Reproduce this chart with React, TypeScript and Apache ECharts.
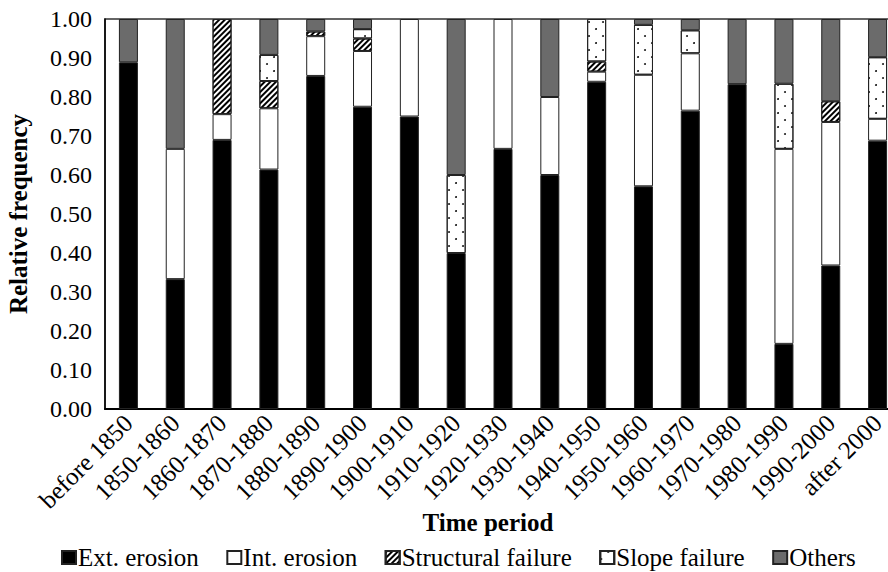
import React, { useEffect, useRef } from "react";
import * as echarts from "echarts";

// Time periods on the category axis
const categories = [
  "before 1850", "1850-1860", "1860-1870", "1870-1880", "1880-1890", "1890-1900",
  "1900-1910", "1910-1920", "1920-1930", "1930-1940", "1940-1950", "1950-1960",
  "1960-1970", "1970-1980", "1980-1990", "1990-2000", "after 2000",
];

// Relative frequency of each failure mechanism per period
const extErosion = [0.889, 0.333, 0.69, 0.614, 0.854, 0.775, 0.75, 0.4, 0.667, 0.6, 0.839, 0.571, 0.765, 0.833, 0.167, 0.368, 0.688];
const intErosion = [0, 0.334, 0.066, 0.157, 0.102, 0.143, 0.25, 0, 0.333, 0.2, 0.026, 0.286, 0.147, 0, 0.5, 0.368, 0.056];
const structuralFailure = [0, 0, 0.244, 0.07, 0.012, 0.032, 0, 0, 0, 0, 0.026, 0, 0, 0, 0, 0.053, 0];
const slopeFailure = [0, 0, 0, 0.067, 0, 0.024, 0, 0.2, 0, 0, 0.109, 0.128, 0.059, 0, 0.167, 0, 0.158];
const others = [0.111, 0.333, 0, 0.092, 0.032, 0.026, 0, 0.4, 0, 0.2, 0, 0.015, 0.029, 0.167, 0.166, 0.211, 0.098];

const yTicks = { min: 0, max: 1, interval: 0.1 };

const FONT = "Liberation Serif";
const EDGE = "#222";

const hatch = {
  symbol: "rect",
  symbolSize: 1,
  color: "#000",
  dashArrayX: [1, 0],
  dashArrayY: [2, 2],
  rotation: -Math.PI / 4,
};

const dots = {
  symbol: "circle",
  symbolSize: 0.9,
  color: "#000",
  dashArrayX: [[2, 12], [0, 7, 2, 5]],
  dashArrayY: [2, 4.5],
  rotation: 0,
};

const toData = (arr: number[]) => arr.map((v) => (v === 0 ? "-" : v));

export default function App() {
  const ref = useRef<HTMLDivElement>(null);

  useEffect(() => {
    if (!ref.current) return;
    const chart = echarts.init(ref.current, undefined, { renderer: "svg" });

    const mk = (name: string, data: number[], color: string, decal?: any) => ({
      name,
      type: "bar",
      stack: "total",
      barWidth: 19,
      data: toData(data),
      itemStyle: {
        color,
        borderColor: EDGE,
        borderWidth: 1,
        ...(decal ? { decal } : {}),
      },
      emphasis: { disabled: true },
    });

    chart.setOption({
      animation: false,
      backgroundColor: "#fff",
      textStyle: { fontFamily: FONT },
      grid: {
        left: 105,
        top: 19,
        width: 796,
        height: 390,
        show: true,
        borderColor: "#333",
        borderWidth: 1.5,
        containLabel: false,
        outerBoundsMode: "none",
      },
      legend: {
        left: 61,
        top: 545,
        padding: 0,
        itemGap: 27.5,
        itemWidth: 14,
        itemHeight: 13,
        icon: "rect",
        textStyle: {
          fontFamily: FONT,
          fontSize: 25,
          color: "#000",
          padding: [0, 0, 0, -3],
        },
        data: ["Ext. erosion", "Int. erosion", "Structural failure", "Slope failure", "Others"],
      },
      xAxis: {
        type: "category",
        data: categories,
        name: "Time period",
        nameLocation: "middle",
        nameGap: 101,
        nameMoveOverlap: false,
        nameTextStyle: {
          fontFamily: FONT,
          fontSize: 25,
          fontWeight: "bold",
          color: "#000",
          padding: [0, 30, 0, 0],
        },
        axisLine: { lineStyle: { color: "#000", width: 2 } },
        axisTick: { show: false },
        axisLabel: {
          rotate: 45,
          margin: 10,
          interval: 0,
          fontFamily: FONT,
          fontSize: 25,
          color: "#000",
        },
      },
      yAxis: {
        type: "value",
        min: yTicks.min,
        max: yTicks.max,
        interval: yTicks.interval,
        name: "Relative frequency",
        nameLocation: "middle",
        nameGap: 74,
        nameTextStyle: { fontFamily: FONT, fontSize: 25, fontWeight: "bold", color: "#000" },
        axisLine: { show: true, lineStyle: { color: "#000", width: 1.5 } },
        axisTick: { show: false },
        splitLine: { show: false },
        axisLabel: {
          margin: 13,
          fontFamily: FONT,
          fontSize: 24,
          color: "#000",
          formatter: (v: number) => v.toFixed(2),
        },
      },
      series: [
        mk("Ext. erosion", extErosion, "#000"),
        mk("Int. erosion", intErosion, "#fff"),
        mk("Structural failure", structuralFailure, "#fff", hatch),
        mk("Slope failure", slopeFailure, "#fff", dots),
        mk("Others", others, "#6b6b6b"),
      ],
    });

    return () => chart.dispose();
  }, []);

  return (
    <div
      ref={ref}
      style={{ position: "fixed", left: 0, top: 0, width: 888, height: 572 }}
    />
  );
}
